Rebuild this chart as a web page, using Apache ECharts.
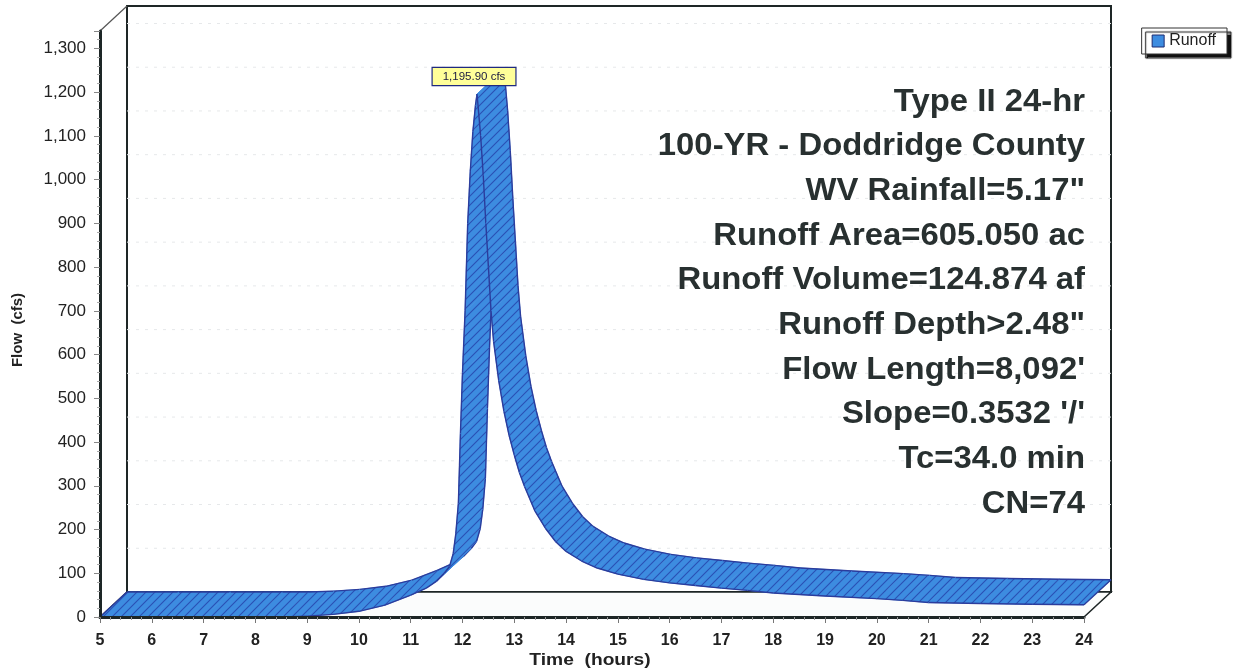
<!DOCTYPE html>
<html><head><meta charset="utf-8">
<script src="https://cdn.jsdelivr.net/npm/echarts@6/dist/echarts.min.js"></script>
<style>html,body{margin:0;padding:0;background:#fff}#c{width:1235px;height:670px}</style>
</head><body><div id="c"></div>
<script>
// ---- data ----
const times = [5, 6, 7, 8, 8.5, 9, 9.5, 10, 10.5, 11, 11.3, 11.5, 11.65, 11.75, 11.82, 11.87, 11.92, 11.96, 12.0, 12.05, 12.1, 12.15, 12.2, 12.25, 12.28,
  12.35, 12.4, 12.45, 12.5, 12.55, 12.6, 12.7, 12.8, 12.9, 13.0, 13.1, 13.2, 13.4, 13.6, 13.8, 14.0, 14.3, 14.6, 15.0, 15.5, 16.0, 16.5, 17.0, 17.5, 18.0, 19.0, 20.0, 20.5, 21.0, 22.0, 23.0, 24.0];
const flows = [0, 0, 0, 0, 0, 2, 6, 13, 27, 50, 66, 82, 100, 116, 145, 190, 260, 420, 560, 700, 900, 1020, 1110, 1170, 1195.9,
  1100, 1010, 900, 800, 700, 630, 540, 470, 415, 370, 330, 298, 242, 203, 172, 150, 128, 112, 98, 86, 78, 72, 66, 61, 55, 48, 42, 38, 33, 31, 29, 28];
const seriesName = 'Runoff';
const peakText = '1,195.90 cfs';
const infoLines = ['Type II 24-hr', '100-YR - Doddridge County', 'WV Rainfall=5.17"', 'Runoff Area=605.050 ac',
  'Runoff Volume=124.874 af', 'Runoff Depth>2.48"', "Flow Length=8,092'", "Slope=0.3532 '/'", 'Tc=34.0 min', 'CN=74'];
const xMin = 5, xMax = 24, xStep = 1;
const yMin = 0, yMax = 1340, yStep = 100, yLabelMax = 1300;
const xName = 'Time  (hours)', yName = 'Flow  (cfs)';

// ---- styling ----
const DX = 27, DY = -25;
const FILL = '#3d8ce0', HATCH = '#2a50b4', EDGE = '#2b3c9c';
const pc = document.createElement('canvas'); pc.width = 9; pc.height = 9;
const g = pc.getContext('2d');
g.fillStyle = FILL; g.fillRect(0, 0, 9, 9);
g.strokeStyle = HATCH; g.lineWidth = 1.1;
g.beginPath(); g.moveTo(-1, 10); g.lineTo(10, -1); g.moveTo(-1, 1); g.lineTo(1, -1); g.moveTo(8, 10); g.lineTo(10, 8); g.stroke();
const pattern = { image: pc, repeat: 'repeat' };

function renderItem(params, api) {
  const F = (t, v) => api.coord([t, v]);
  const B = (t, v) => { const p = api.coord([t, v]); return [p[0] + DX, p[1] + DY]; };
  const ch = [];
  const bl = B(xMin, yMin), tr = B(xMax, yMax);
  ch.push({ type: 'rect', shape: { x: bl[0], y: tr[1], width: tr[0] - bl[0], height: bl[1] - tr[1] },
    style: { fill: '#fff', stroke: '#1e2626', lineWidth: 2 } });
  ch.push({ type: 'polygon', shape: { points: [F(xMin, yMin), F(xMax, yMin), B(xMax, yMin), B(xMin, yMin)] },
    style: { fill: '#fbfcfc', stroke: '#1e2626', lineWidth: 1.5 } });
  const ft = F(xMin, yMax), bt = B(xMin, yMax);
  ch.push({ type: 'line', shape: { x1: ft[0], y1: ft[1], x2: bt[0], y2: bt[1] }, style: { stroke: '#555', lineWidth: 1.2 } });
  for (let v = yMin + yStep; v <= yLabelMax; v += yStep) {
    const a = B(xMin, v), b = B(xMax, v);
    ch.push({ type: 'line', shape: { x1: a[0], y1: a[1], x2: b[0], y2: b[1] }, style: { stroke: '#e6e8ea', lineWidth: 1, lineDash: [3, 6] } });
  }
  for (let i = 0; i < times.length - 1; i++) {
    const f0 = F(times[i], flows[i]), f1 = F(times[i + 1], flows[i + 1]);
    const b0 = B(times[i], flows[i]), b1 = B(times[i + 1], flows[i + 1]);
    ch.push({ type: 'polygon', shape: { points: [f0, f1, b1, b0] }, style: { fill: pattern, stroke: pattern, lineWidth: 0.8 } });
    ch.push({ type: 'polyline', shape: { points: [f0, f1] }, style: { stroke: EDGE, lineWidth: 1.4, fill: null } });
    ch.push({ type: 'polyline', shape: { points: [b0, b1] }, style: { stroke: EDGE, lineWidth: 1.4, fill: null } });
  }
  const n = times.length - 1;
  [[F(times[0], flows[0]), B(times[0], flows[0])], [F(times[n], flows[n]), B(times[n], flows[n])]].forEach(s => {
    ch.push({ type: 'line', shape: { x1: s[0][0], y1: s[0][1], x2: s[1][0], y2: s[1][1] }, style: { stroke: EDGE, lineWidth: 1.4 } });
  });
  let pk = 0; flows.forEach((v, i) => { if (v > flows[pk]) pk = i; });
  const pp = F(times[pk], flows[pk]);
  ch.push({ type: 'text', x: pp[0] - 3, y: pp[1] - 9, style: { text: peakText, align: 'center', verticalAlign: 'bottom',
    font: '11.5px "Liberation Sans", Arial, sans-serif', fill: '#1a1a40', backgroundColor: '#ffff99',
    borderColor: '#1f2a80', borderWidth: 1.2, padding: [3, 10, 2, 10] } });
  return { type: 'group', children: ch };
}

const chart = echarts.init(document.getElementById('c'), null, { renderer: 'canvas' });
const font = '"Liberation Sans", Arial, sans-serif';
chart.setOption({
  animation: false,
  backgroundColor: '#fff',
  grid: { left: 100, right: 151, top: 31, bottom: 53, containLabel: false, outerBoundsMode: 'none' },
  legend: {
    data: [{ name: seriesName, icon: 'rect' }], right: 8, top: 28, padding: [5, 11, 5, 10],
    itemWidth: 12, itemHeight: 12, itemGap: 5,
    backgroundColor: '#fff', borderColor: '#333', borderWidth: 1,
    shadowColor: '#111', shadowBlur: 1, shadowOffsetX: 4, shadowOffsetY: 4,
    textStyle: { fontSize: 16, color: '#222', fontFamily: font },
    itemStyle: { borderColor: '#1d2a70', borderWidth: 1 }
  },
  xAxis: {
    type: 'value', min: xMin, max: xMax, interval: xStep, z: 10,
    axisLine: { lineStyle: { color: '#1d2626', width: 3 } },
    axisTick: { length: 6, lineStyle: { color: '#777' } },
    minorTick: { show: true, splitNumber: 5, length: 3, lineStyle: { color: '#999' } },
    splitLine: { show: false },
    axisLabel: { fontSize: 16, fontWeight: 'bold', color: '#222', margin: 16, fontFamily: font }
  },
  yAxis: {
    type: 'value', min: yMin, max: yMax, interval: yStep, z: 10,
    axisLine: { show: true, lineStyle: { color: '#1d2626', width: 3 } },
    axisTick: { show: true, length: 6, lineStyle: { color: '#888' } },
    minorTick: { show: true, splitNumber: 5, length: 3, lineStyle: { color: '#aaa' } },
    splitLine: { show: false },
    axisLabel: { fontSize: 17, color: '#222', margin: 14, fontFamily: font,
      formatter: v => (v % yStep === 0 && v <= yLabelMax) ? v.toLocaleString('en-US') : '' }
  },
  series: [{
    type: 'custom', name: seriesName, coordinateSystem: 'cartesian2d', z: 2,
    itemStyle: { color: FILL },
    data: [[xMin, yMin]], renderItem: renderItem, silent: true
  }],
  graphic: infoLines.map((t, i) => ({
    type: 'text', x: 1085, y: 102 + i * 44.7, scaleX: 1.06, z: 20,
    style: { text: t, align: 'right', verticalAlign: 'middle', font: 'bold 31px ' + font, fill: '#283030' }
  })).concat([
    { type: 'text', x: 590, y: 661, scaleX: 1.2, z: 20,
      style: { text: xName, align: 'center', verticalAlign: 'middle', font: 'bold 16px ' + font, fill: '#222' } },
    { type: 'text', x: 18, y: 330, rotation: Math.PI / 2, z: 20,
      style: { text: yName, align: 'center', verticalAlign: 'middle', font: 'bold 15px ' + font, fill: '#222' } }
  ])
});
</script></body></html>
